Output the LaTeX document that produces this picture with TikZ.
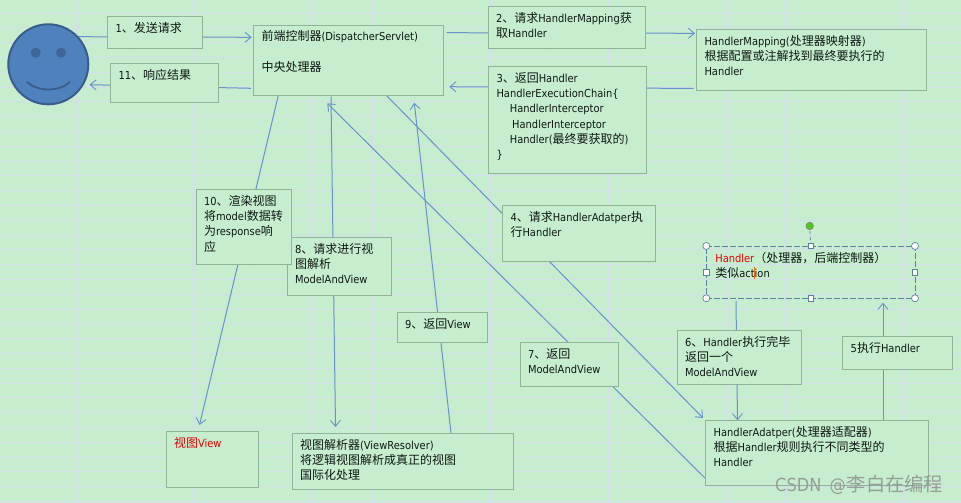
\documentclass[tikz,border=0pt]{standalone}
\usepackage{fontspec}
\setmainfont[FakeStretch=0.9]{DejaVu Sans}
\newfontfamily\cjk{Noto Sans CJK SC}
\usetikzlibrary{arrows.meta}
\definecolor{bgcol}{RGB}{198,237,206}
\definecolor{gridcol}{RGB}{212,221,234}
\definecolor{boxline}{RGB}{143,180,150}
\definecolor{edgeblue}{RGB}{104,146,203}
\definecolor{faceblue}{RGB}{79,129,189}
\definecolor{facedark}{RGB}{56,93,138}
\definecolor{selline}{RGB}{92,128,160}
\definecolor{txt}{RGB}{15,25,20}
\definecolor{wmark}{RGB}{150,158,152}
\newcommand\zh[1]{{\cjk\fontsize{12}{15.2}\selectfont #1}}
\newcommand\boxfont{\fontsize{11}{15.2}\selectfont\color{txt}}
\pgfdeclarelayer{gridlayer}
\pgfdeclarelayer{edgelayer}
\pgfsetlayers{gridlayer,edgelayer,main}
\tikzset{
  boxst/.style={draw=boxline,line width=0.9pt,fill=bgcol,rectangle,inner xsep=8pt,inner ysep=0pt,outer sep=0pt},
  edge/.style={draw=edgeblue,line width=1pt,-{Straight Barb[length=6pt,width=10pt,line width=0.9pt]}},
  handlecirc/.style={circle,draw=selline!70!gray,fill=white,line width=0.7pt,minimum size=7pt,inner sep=0pt},
  handlesq/.style={rectangle,draw=selline,fill=white,line width=0.7pt,minimum size=5.5pt,inner sep=0pt},
}
\newcommand\flowbox[7][]{%
  \pgfmathsetmacro\bxw{#5-#3-16}%
  \pgfmathsetmacro\bxh{#6-#4}%
  \node[boxst,#1,anchor=north west] (#2) at (#3,#4)
    {\parbox[c][\bxh pt][t]{\bxw pt}{\boxfont\raggedright\rule{0pt}{16pt}#7}};%
}
\begin{document}
\begin{tikzpicture}[x=1pt,y=-1pt]
\useasboundingbox (0,0) rectangle (961,503);
\begin{pgfonlayer}{gridlayer}
  \fill[bgcol] (0,0) rectangle (961,503);
  \foreach \i in {0,...,16} \draw[gridcol,line width=0.8pt] ({17+59.15*\i},0) -- ({17+59.15*\i},503);
  \foreach \j in {0,...,33} \draw[gridcol,line width=0.8pt] (0,{13+14.8*\j}) -- (961,{13+14.8*\j});
\end{pgfonlayer}

% person
\node[circle,draw=facedark,fill=faceblue,line width=2pt,minimum size=80pt,inner sep=0pt,outer sep=0pt] (face) at (48.3,64.3) {};
\fill[facedark!75!faceblue] (35.7,52.7) circle (5);
\fill[facedark!75!faceblue] (61,52.7) circle (5);
\draw[facedark,line width=1.8pt] (27,82) .. controls (38,92) and (59,92) .. (70,82);

% boxes
\flowbox{box1}{107.5}{16.5}{202.5}{48}{1\zh{、发送请求}}
\flowbox{box11}{110.5}{63.5}{218.5}{102}{11\zh{、响应结果}}
\flowbox{front}{253.5}{25}{443.5}{95.5}{\zh{前端控制器}(DispatcherServlet)\\\mbox{}\\\zh{中央处理器}}
\flowbox{box2}{488}{6.5}{645}{48}{2\zh{、请求}HandlerMapping\zh{获}\\\zh{取}Handler}
\flowbox{box3}{488.5}{66.5}{646.5}{173}{3\zh{、返回}Handler\\HandlerExecutionChain\{\\\hspace*{13.3pt}HandlerInterceptor\\\hspace*{15.7pt}HandlerInterceptor\\\hspace*{13.3pt}Handler(\zh{最终要获取的})\\\}}
\flowbox{hm}{696.5}{29.5}{926.5}{90}{HandlerMapping(\zh{处理器映射器})\\\zh{根据配置或注解找到最终要执行的}\\Handler}
\flowbox{box4}{502.5}{205}{655}{261}{4\zh{、请求}HandlerAdatper\zh{执}\\\zh{行}Handler}
\flowbox{box8}{287}{237}{391}{295}{8\zh{、请求进行视}\\\zh{图解析}\\ModelAndView}
\flowbox{box10}{196}{189.5}{291.5}{264}{10\zh{、渲染视图}\\\zh{将}model\zh{数据转}\\\zh{为}response\zh{响}\\\zh{应}}
\flowbox{box9}{397}{312}{487}{342}{9\zh{、返回}View}
\flowbox{box7}{520}{342}{618}{386}{7\zh{、返回}\\ModelAndView}
\flowbox{view}{166}{431}{258}{487}{\textcolor{red!90!black}{\zh{视图}View}}
\flowbox{vr}{292}{433}{513.5}{489}{\zh{视图解析器}(ViewResolver)\\\zh{将逻辑视图解析成真正的视图}\\\zh{国际化处理}}
\flowbox{box6}{677}{330.3}{801.7}{384.3}{6\zh{、}Handler\zh{执行完毕}\\\zh{返回一个}\\ModelAndView}
\flowbox{box5}{842.7}{336.7}{952.3}{369}{5\zh{执行}Handler}
\flowbox{ha}{705.7}{420.3}{928.3}{485.3}{HandlerAdatper(\zh{处理器适配器})\\\zh{根据}Handler\zh{规则执行不同类型的}\\Handler}
\flowbox[draw=selline,dashed,dash pattern=on 6pt off 2pt,fill=none,inner xsep=9pt]{handler}{706.3}{246}{913}{298.3}{\textcolor{red!90!black}{Handler}\zh{（处理器，后端控制器）}\\\zh{类似}act\makebox[0pt]{\textcolor{orange!80!red}{\rule[-2pt]{0.7pt}{12pt}}}ion}

% selection handles
\draw[selline,dashed,line width=0.8pt] (handler.north) -- (809.7,226);
\node[circle,draw=gray,fill=green!55!olive!90!white,line width=0.6pt,minimum size=7.5pt,inner sep=0pt] (rot) at (809.7,226) {};
\foreach \a in {north west,north east,south west,south east} \node[handlecirc] at (handler.\a) {};
\foreach \a in {north,south,east,west} \node[handlesq] at (handler.\a) {};

% connectors
\begin{pgfonlayer}{edgelayer}
  \draw[edge] ([shift={(29.7,-27.6)}]face.center) -- ([shift={(-1.8,12.3)}]front.north west);
  \draw[edge] ([shift={(-2.5,63.3)}]front.north west) -- ([shift={(41.2,20.4)}]face.center);
  \draw[edge] ([shift={(3.2,7.7)}]front.north east) -- ([shift={(-1.5,3.8)}]hm.north west);
  \draw[edge] ([shift={(-3,-1.5)}]hm.south west) -- ([shift={(5.8,61.7)}]front.north east);
  \draw[edge] ([shift={(-58.5,-1.5)}]front.south east) -- ([shift={(-2.7,-2.3)}]ha.north west);
  \draw[edge] ([shift={(29.7,2.7)}]handler.south west) -- ([shift={(31.8,0)}]ha.north west);
  \draw[edge] ([shift={(177.3,0)}]ha.north west) -- ([shift={(176.7,4.4)}]handler.south west);
  \draw[edge] ([shift={(0.3,58.7)}]ha.north west) -- ([shift={(73.8,7.8)}]front.south west);
  \draw[edge] ([shift={(77.5,1)}]front.south west) -- ([shift={(43.5,-6)}]vr.north west);
  \draw[edge] ([shift={(159,0)}]vr.north west) -- ([shift={(160.8,7.2)}]front.south west);
  \draw[edge] ([shift={(24.8,0)}]front.south west) -- ([shift={(33.5,-6)}]view.north west);
\end{pgfonlayer}

% watermark
\node[anchor=base west,inner sep=0pt,text=wmark] (wm) at (775,491.5)
  {\fontsize{18}{20}\selectfont CSDN\hspace{3pt} @\hspace{1pt}{\cjk\fontsize{19.3}{20}\selectfont 李白在编程}};
\end{tikzpicture}
\end{document}
